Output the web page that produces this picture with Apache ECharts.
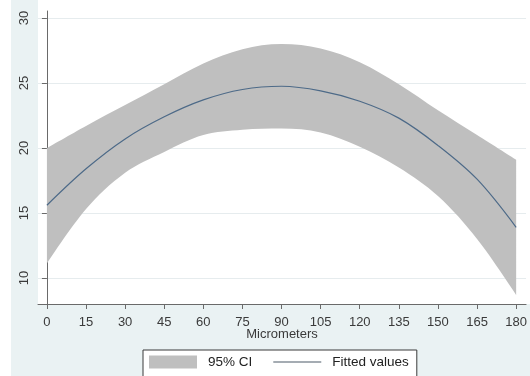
<!DOCTYPE html>
<html>
<head>
<meta charset="utf-8">
<script src="https://cdn.jsdelivr.net/npm/echarts@6/dist/echarts.min.js"></script>
<style>
html,body{margin:0;padding:0;background:#eaf2f3;}
#chart{width:530px;height:376px;}
</style>
</head>
<body>
<div id="chart"></div>
<script>
// Data
const micrometers = [0, 15, 30, 45, 60, 75, 90, 105, 120, 135, 150, 165, 180];
const fittedValues = [15.6, 18.4, 20.7, 22.4, 23.7, 24.5, 24.75, 24.4, 23.6, 22.3, 20.2, 17.6, 13.9];
const ciUpper =      [20.0, 21.7, 23.3, 24.9, 26.5, 27.6, 28.0, 27.65, 26.6, 24.9, 22.9, 21.0, 19.1];
const ciLower =      [11.1, 15.3, 18.1, 19.7, 21.0, 21.4, 21.5, 21.2, 20.1, 18.5, 16.3, 13.0, 8.7];
const xTicks = [0, 15, 30, 45, 60, 75, 90, 105, 120, 135, 150, 165, 180];
const yTicks = [10, 15, 20, 25, 30];

// value first, x second, so that stacking acts on the value dimension
const lowerPts = micrometers.map((x, i) => [ciLower[i], x]);
const bandPts = micrometers.map((x, i) => [ciUpper[i] - ciLower[i], x]);
const fitPts = micrometers.map((x, i) => [x, fittedValues[i]]);

const chart = echarts.init(document.getElementById('chart'), null, {renderer: 'canvas'});
const font = 'Liberation Sans, Arial, sans-serif';
chart.setOption({
  backgroundColor: '#eaf2f3',
  animation: false,
  graphic: [
    {type: 'rect', left: 0, top: 0, shape: {width: 11, height: 376}, style: {fill: '#ffffff'}, z: -10},
    {type: 'rect', left: 38, top: 0, shape: {width: 492, height: 304}, style: {fill: '#ffffff'}, z: -10}
  ],
  grid: {left: 38, right: 0, top: 11, bottom: 72, containLabel: false},
  xAxis: {
    type: 'value', min: -3.42, max: 183.8,
    name: 'Micrometers', nameLocation: 'middle', nameGap: 24, nameMoveOverlap: false,
    nameTextStyle: {color: '#3a3a3a', fontSize: 13, fontFamily: font},
    axisLine: {show: true, onZero: false, lineStyle: {color: '#6a6a6a', width: 1}},
    axisTick: {show: true, length: 5, customValues: xTicks, lineStyle: {color: '#6a6a6a'}},
    axisLabel: {customValues: xTicks, color: '#3a3a3a', fontSize: 13, fontFamily: font, margin: 12},
    splitLine: {show: false}
  },
  yAxis: {
    type: 'value', min: 8, max: 30.54,
    axisLine: {show: true, lineStyle: {color: '#6a6a6a', width: 1}},
    axisTick: {show: true, length: 5, customValues: yTicks, lineStyle: {color: '#6a6a6a'}},
    axisLabel: {customValues: yTicks, rotate: 90, color: '#3a3a3a', fontSize: 13, fontFamily: font, margin: 7},
    splitLine: {show: true, lineStyle: {color: '#e6ecee', width: 1}}
  },
  legend: {
    left: 143, top: 350, width: 280,
    backgroundColor: '#ffffff', borderColor: '#3a3a3a', borderWidth: 1,
    padding: [5, 8, 12, 6], itemGap: 21, itemWidth: 48, itemHeight: 13,
    textStyle: {color: '#222', fontSize: 13.5, fontFamily: font, padding: [0, 0, 0, 6]},
    data: [
      {name: '95% CI', icon: 'rect', itemStyle: {color: '#bfbfbf'}},
      {name: 'Fitted values', icon: 'path://M0,0 L100,0 L100,2 L0,2 Z', itemStyle: {color: '#4d5a68'}}
    ]
  },
  series: [
    {
      name: 'lower', type: 'line', data: lowerPts, encode: {x: 1, y: 0}, stack: 'ci', smooth: 0.35,
      symbol: 'none', lineStyle: {opacity: 0}, silent: true, z: 1
    },
    {
      name: '95% CI', type: 'line', data: bandPts, encode: {x: 1, y: 0}, stack: 'ci', smooth: 0.35,
      symbol: 'none', lineStyle: {opacity: 0, width: 0}, itemStyle: {color: '#bfbfbf'},
      areaStyle: {color: '#bfbfbf', opacity: 1}, z: 1
    },
    {
      name: 'Fitted values', type: 'line', data: fitPts, smooth: 0.35,
      symbol: 'none', lineStyle: {color: '#4d6a88', width: 1.2}, itemStyle: {color: '#4d6a88'}, z: 3
    }
  ]
});
</script>
</body>
</html>
